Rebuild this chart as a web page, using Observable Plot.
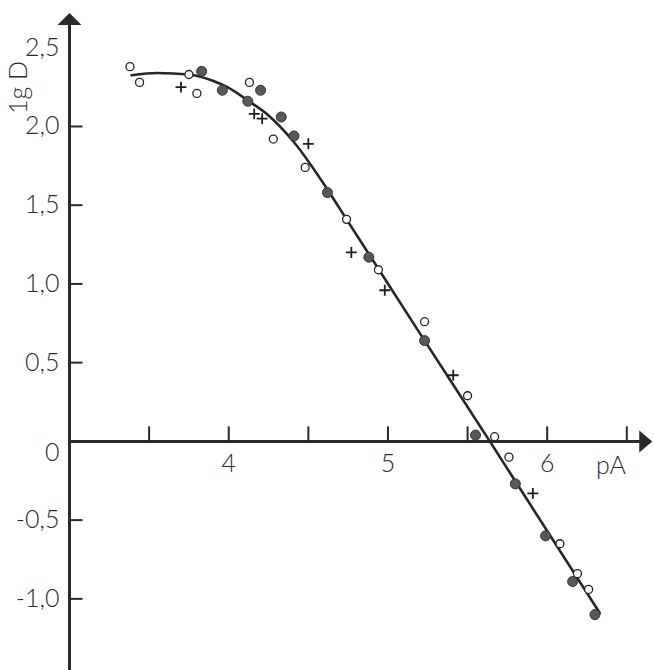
<!DOCTYPE html>
<html>
<head>
<meta charset="utf-8">
<script src="https://cdn.jsdelivr.net/npm/d3@7"></script>
<script src="https://cdn.jsdelivr.net/npm/@observablehq/plot@0.6"></script>
<style>
  html, body { margin: 0; padding: 0; background: #fff; }
  #chart svg { display: block; }
</style>
</head>
<body>
<div id="chart"></div>
<script>
// ---- data ----
const openX   = [3.38, 3.44, 3.75, 3.80, 4.13, 4.28, 4.48, 4.74, 4.94, 5.23, 5.50, 5.67, 5.76, 6.08, 6.19, 6.26];
const openY   = [2.38, 2.28, 2.33, 2.21, 2.28, 1.92, 1.74, 1.41, 1.09, 0.76, 0.29, 0.03, -0.10, -0.65, -0.84, -0.94];

const filledX = [3.83, 3.96, 4.12, 4.20, 4.33, 4.41, 4.62, 4.88, 5.23, 5.55, 5.80, 5.99, 6.16, 6.30];
const filledY = [2.35, 2.23, 2.16, 2.23, 2.06, 1.94, 1.58, 1.17, 0.64, 0.04, -0.27, -0.60, -0.89, -1.10];

const plusX   = [3.70, 4.16, 4.21, 4.50, 4.77, 4.98, 5.41, 5.91];
const plusY   = [2.25, 2.08, 2.05, 1.89, 1.20, 0.96, 0.42, -0.33];

const curveX  = [3.39, 3.55, 3.75, 3.90, 4.00, 4.12, 4.25, 4.41, 4.62, 4.74, 5.23, 5.64, 6.33];
const curveY  = [2.325, 2.34, 2.33, 2.29, 2.245, 2.165, 2.07, 1.90, 1.60, 1.41, 0.64, 0.0, -1.09];

const yTickValues  = [2.0, 1.5, 1.0, 0.5, -0.5, -1.0];
const yLabelValues = [2.5, 2.0, 1.5, 1.0, 0.5, 0, -0.5, -1.0];
const yLabels      = ["2,5", "2,0", "1,5", "1,0", "0,5", "0", "-0,5", "-1,0"];
const xTickValues  = [3.5, 4, 4.5, 5, 5.5, 6, 6.5];
const xLabelValues = [4, 5, 6];
const xLabels      = ["4", "5", "6"];
const xAxisTitle   = "pA";
const yAxisTitle   = "1g D";

// ---- scale extents ----
const xMin = 3.0, xMax = 6.674;
const yMin = -1.455, yMax = 2.80;
const yArrowTip = 2.72, xArrowTip = 6.66;

const ink = "#2a2a2a";
const font = "Lato, 'DejaVu Sans', sans-serif";

// custom symbols (pixel shapes)
const tickRight = { draw(ctx) { ctx.moveTo(0, 0); ctx.lineTo(13, 0); } };
const tickUp    = { draw(ctx) { ctx.moveTo(0, 0); ctx.lineTo(0, -15); } };
const triUp     = { draw(ctx) { ctx.moveTo(0, 0); ctx.lineTo(12, 12); ctx.lineTo(-12, 12); ctx.closePath(); } };
const triRight  = { draw(ctx) { ctx.moveTo(0, 0); ctx.lineTo(-13, -11); ctx.lineTo(-13, 11); ctx.closePath(); } };

const open   = openX.map((x, i) => ({x, y: openY[i]}));
const filled = filledX.map((x, i) => ({x, y: filledY[i]}));
const plus   = plusX.map((x, i) => ({x, y: plusY[i]}));
const curve  = curveX.map((x, i) => ({x, y: curveY[i]}));

const yLab = yLabelValues.map((v, i) => ({v, t: yLabels[i]}));
const xLab = xLabelValues.map((v, i) => ({v, t: xLabels[i]}));

const fs = 25;

const chart = Plot.plot({
  width: 654,
  height: 670,
  marginLeft: 69,
  marginRight: 0,
  marginTop: 0,
  marginBottom: 0,
  style: { fontFamily: font, background: "#fff", color: ink },
  x: { domain: [xMin, xMax], axis: null },
  y: { domain: [yMin, yMax], axis: null },
  marks: [
    // axes
    Plot.ruleX([xMin], { y1: yMin, y2: yArrowTip - 0.05, stroke: ink, strokeWidth: 3 }),
    Plot.ruleY([0], { x1: xMin, x2: xArrowTip - 0.05, stroke: ink, strokeWidth: 3 }),
    Plot.dot([0], { x: () => xMin, y: () => yArrowTip, symbol: triUp, fill: ink, stroke: "none" }),
    Plot.dot([0], { x: () => xArrowTip, y: () => 0, symbol: triRight, fill: ink, stroke: "none" }),
    Plot.dot(yTickValues, { x: () => xMin, y: d => d, symbol: tickRight, fill: "none", stroke: ink, strokeWidth: 2 }),
    Plot.dot(xTickValues, { x: d => d, y: () => 0, symbol: tickUp, fill: "none", stroke: ink, strokeWidth: 2 }),

    // tick labels
    Plot.text(yLab.filter(d => d.t !== "0"), { x: () => xMin, y: "v", text: "t", textAnchor: "end", dx: -10, fontSize: fs, fontWeight: 300, fill: ink }),
    Plot.text(yLab.filter(d => d.t === "0"), { x: () => xMin, y: "v", text: "t", textAnchor: "end", dx: -10, dy: 12, fontSize: fs, fontWeight: 300, fill: ink }),
    Plot.text(xLab, { x: "v", y: () => 0, text: "t", dy: 23, fontSize: fs, fontWeight: 300, fill: ink }),
    Plot.text([xAxisTitle], { x: () => 6.40, y: () => 0, text: d => d, dy: 25, fontSize: fs, fontWeight: 300, fill: ink }),
    Plot.text([yAxisTitle], { frameAnchor: "top-left", dx: -51, dy: 87, rotate: -90, textAnchor: "middle", lineAnchor: "middle", text: d => d, fontSize: fs, fontWeight: 300, fill: ink }),

    // fitted curve
    Plot.line(curve, { x: "x", y: "y", curve: "monotone-x", stroke: "#262626", strokeWidth: 2.6 }),

    // data points
    Plot.dot(filled, { x: "x", y: "y", r: 5, fill: "#585858", stroke: "#333", strokeWidth: 1 }),
    Plot.dot(open, { x: "x", y: "y", r: 4, fill: "#fff", stroke: "#222", strokeWidth: 1.3 }),
    Plot.dot(plus, { x: "x", y: "y", symbol: "plus", r: 3.6, stroke: "#1e1e1e", strokeWidth: 1.8 })
  ]
});

document.getElementById("chart").appendChild(chart);
</script>
</body>
</html>
